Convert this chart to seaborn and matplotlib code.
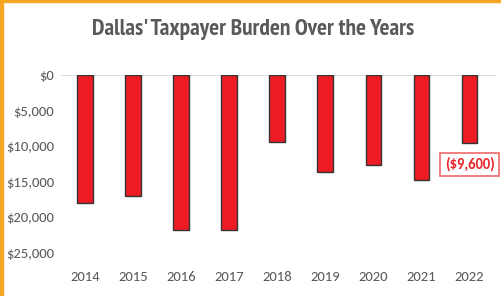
import matplotlib

matplotlib.use("Agg")
import matplotlib.pyplot as plt
import matplotlib.patches as mpatches
import pandas as pd
import seaborn as sns

years = ["2014", "2015", "2016", "2017", "2018", "2019", "2020", "2021", "2022"]
burden = [-18000, -17000, -21700, -21700, -9400, -13600, -12700, -14800, -9600]
y_ticks = [0, -5000, -10000, -15000, -20000, -25000]
y_labels = ["$0", "$5,000", "$10,000", "$15,000", "$20,000", "$25,000"]
callout = "($9,600)"

sns.set_theme(style="white")
plt.rcParams["font.family"] = ["Carlito", "DejaVu Sans"]

GREY = "#595959"
RED = "#ED1C24"

df = pd.DataFrame({"year": years, "burden": burden})

fig = plt.figure(figsize=(5.01, 2.96), dpi=100)
ax = fig.add_axes([61 / 501, 1 - 253 / 296, 435 / 501, 178 / 296])
sns.barplot(data=df, x="year", y="burden", color=RED, saturation=1,
            width=0.33, edgecolor="#333333", linewidth=1, ax=ax)

ax.set_xlim(-0.5, 8.55)
ax.set_ylim(-25000, 0)
ax.set_yticks(y_ticks)
ax.set_yticklabels(y_labels)
ax.axhline(0, color="#d9d9d9", lw=1.2, zorder=0)
for s in ax.spines.values():
    s.set_visible(False)
ax.set_xlabel("")
ax.set_ylabel("")
ax.tick_params(axis="both", length=0, colors=GREY, labelsize=10.5)
ax.tick_params(axis="x", pad=13)
ax.tick_params(axis="y", pad=5)

# callout for the latest year
ax.annotate(callout, xy=(len(years) - 1, burden[-1]), xytext=(0, -15),
            textcoords="offset points", ha="center", va="center",
            fontsize=10.5, fontweight="bold", color="#E8252A",
            bbox=dict(boxstyle="square,pad=0.3", fc="white", ec="#F06A6A", lw=1.2),
            annotation_clip=False)

fig.text(0.505, 1 - 30 / 296, "Dallas' Taxpayer Burden Over the Years",
         ha="center", va="center", fontsize=16.8, fontweight="bold", color=GREY,
         family=["PT Sans Narrow", "Carlito"])

# orange frame on top and left edges
fig.patches.append(mpatches.Rectangle((0, 1 - 2 / 296), 1, 2 / 296, transform=fig.transFigure,
                                      color="#F5A623", zorder=10))
fig.patches.append(mpatches.Rectangle((0, 0), 3 / 501, 1, transform=fig.transFigure,
                                      color="#F5A623", zorder=10))

fig.savefig("out.png", dpi=100)
